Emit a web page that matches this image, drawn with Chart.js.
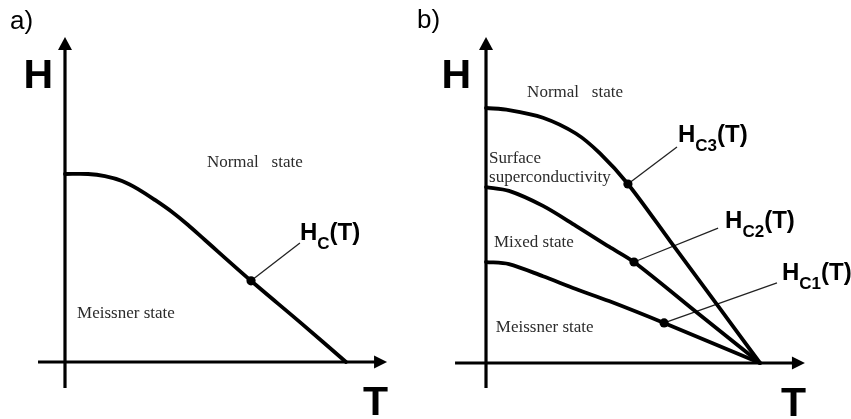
<!DOCTYPE html>
<html>
<head>
<meta charset="utf-8">
<title>Critical field phase diagrams</title>
<script src="https://cdn.jsdelivr.net/npm/chart.js@4/dist/chart.umd.min.js"></script>
<style>
  html, body { margin: 0; padding: 0; background: #ffffff; }
  #wrap { position: relative; width: 851px; height: 419px; overflow: hidden; }
  #panelA { position: absolute; left: 0; top: 0; }
  #panelB { position: absolute; left: 400px; top: 0; }
</style>
</head>
<body>
<div id="wrap">
  <canvas id="panelA" width="425" height="419"></canvas>
  <canvas id="panelB" width="451" height="419"></canvas>
</div>
<script>
// Reduced temperature T/Tc shared by the curves, and reduced field H.
// Panel a) type-I superconductor: a single critical field curve Hc(T).
const tA  = [0, 0.082, 0.142, 0.203, 0.260, 0.320, 0.381, 0.438, 0.498, 0.662, 0.836, 1];
const hcA = [1.0, 1.0, 0.989, 0.963, 0.920, 0.862, 0.798, 0.729, 0.649, 0.432, 0.212, 0];

// Panel b) type-II superconductor: Hc3, Hc2 and Hc1 (field in units of Hc3(0)).
const tC3 = [0, 0.084, 0.208, 0.328, 0.416, 0.518, 0.672, 0.854, 1];
const hC3 = [1.0, 0.992, 0.962, 0.900, 0.822, 0.702, 0.478, 0.213, 0];
const tC2 = [0, 0.084, 0.208, 0.328, 0.449, 0.540, 0.781, 1];
const hC2 = [0.690, 0.675, 0.616, 0.538, 0.456, 0.396, 0.188, 0];
const tC1 = [0, 0.084, 0.208, 0.328, 0.449, 0.650, 1];
const hC1 = [0.396, 0.388, 0.340, 0.290, 0.243, 0.157, 0];

// Index of the marked point on each curve (where the label's leader line starts)
const markA = 9, markC3 = 5, markC2 = 5, markC1 = 5;

// Where each leader line ends (T, H), next to its curve label
const leaderEndA  = [0.836, 0.633];
const leaderEndC3 = [0.697, 0.847];
const leaderEndC2 = [0.847, 0.529];
const leaderEndC1 = [1.062, 0.314];

// Region names written inside each diagram
const regionTextA = ['Normal   state', 'Meissner state'];
const regionTextB = ['Normal   state', 'Surface', 'superconductivity', 'Mixed state', 'Meissner state'];

const pts = (xs, ys) => xs.map((x, i) => ({ x: x, y: ys[i] }));

function curve(xs, ys, mark) {
  return {
    type: 'line',
    data: pts(xs, ys),
    borderColor: '#000',
    backgroundColor: '#000',
    borderWidth: 3.8,
    tension: 0.3,
    borderCapStyle: 'round',
    borderJoinStyle: 'round',
    pointRadius: ctx => ctx.dataIndex === mark ? 4.6 : 0,
    pointBorderWidth: 0,
    pointHoverRadius: 0,
    fill: false
  };
}

function leader(xs, ys, mark, end) {
  return {
    type: 'line',
    data: [{ x: xs[mark], y: ys[mark] }, { x: end[0], y: end[1] }],
    borderColor: '#222',
    borderWidth: 1.3,
    pointRadius: 0,
    fill: false
  };
}

// Draws the H and T axes with arrow heads, the axis letters, the panel tag,
// the region names and the curve labels.
const diagramDecor = {
  id: 'diagramDecor',
  afterDatasetsDraw(chart, args, opts) {
    const ctx = chart.ctx;
    const xs = chart.scales.x, ys = chart.scales.y;
    const px = v => xs.getPixelForValue(v);
    const py = v => ys.getPixelForValue(v);
    ctx.save();

    // axes
    const x0 = px(0), y0 = py(0);
    ctx.strokeStyle = '#000';
    ctx.fillStyle = '#000';
    ctx.lineWidth = 3.2;
    ctx.beginPath();
    ctx.moveTo(x0, py(opts.hAxis[0]));
    ctx.lineTo(x0, py(opts.hAxis[1]) + 10);
    ctx.stroke();
    ctx.lineWidth = 2.8;
    ctx.beginPath();
    ctx.moveTo(px(opts.tAxis[0]), y0);
    ctx.lineTo(px(opts.tAxis[1]) - 10, y0);
    ctx.stroke();
    // arrow heads
    const yt = py(opts.hAxis[1]);
    ctx.beginPath();
    ctx.moveTo(x0, yt);
    ctx.lineTo(x0 - 7, yt + 13);
    ctx.lineTo(x0 + 7, yt + 13);
    ctx.closePath();
    ctx.fill();
    const xt = px(opts.tAxis[1]);
    ctx.beginPath();
    ctx.moveTo(xt, y0);
    ctx.lineTo(xt - 13, y0 - 6.5);
    ctx.lineTo(xt - 13, y0 + 6.5);
    ctx.closePath();
    ctx.fill();

    // axis letters
    ctx.font = 'bold 41px "Liberation Sans", Arial, sans-serif';
    ctx.textBaseline = 'alphabetic';
    ctx.textAlign = 'right';
    ctx.fillText('H', x0 - opts.hLetterGap, 88);
    ctx.fillText('T', xt + 1, y0 + 53);

    // panel tag
    ctx.textAlign = 'left';
    ctx.font = '26px "Liberation Sans", Arial, sans-serif';
    ctx.fillText(opts.tag, opts.tagX, opts.tagY);

    // region names
    ctx.fillStyle = '#2b2b2b';
    ctx.font = '17px "Liberation Serif", "Times New Roman", serif';
    opts.regions.forEach(r => ctx.fillText(r.text, px(r.at[0]), py(r.at[1])));

    // curve labels: H, subscript, (T)
    ctx.fillStyle = '#000';
    opts.curveLabels.forEach(l => {
      let x = px(l.at[0]) + l.dx;
      const y = py(l.at[1]) + l.dy;
      ctx.font = 'bold 24px "Liberation Sans", Arial, sans-serif';
      ctx.fillText('H', x, y);
      x += ctx.measureText('H').width;
      ctx.font = 'bold 17px "Liberation Sans", Arial, sans-serif';
      ctx.fillText(l.sub, x, y + 9);
      x += ctx.measureText(l.sub).width;
      ctx.font = 'bold 24px "Liberation Sans", Arial, sans-serif';
      ctx.fillText('(T)', x, y);
    });
    ctx.restore();
  }
};

function baseOptions(xmin, xmax, ymin, ymax, decor) {
  return {
    responsive: false,
    animation: false,
    events: [],
    layout: { padding: 0 },
    scales: {
      x: { type: 'linear', min: xmin, max: xmax, display: false },
      y: { type: 'linear', min: ymin, max: ymax, display: false }
    },
    plugins: {
      legend: { display: false },
      tooltip: { enabled: false },
      diagramDecor: decor
    }
  };
}

new Chart(document.getElementById('panelA'), {
  type: 'line',
  data: {
    datasets: [
      curve(tA, hcA, markA),
      leader(tA, hcA, markA, leaderEndA)
    ]
  },
  options: baseOptions(-0.2313, 1.2811, -0.3032, 1.9255, {
    tAxis: [-0.096, 1.146],
    hAxis: [-0.138, 1.729],
    hLetterGap: 12,
    tag: 'a)', tagX: 10, tagY: 29,
    regions: [
      { text: regionTextA[0], at: [0.505, 1.037] },
      { text: regionTextA[1], at: [0.043, 0.234] }
    ],
    curveLabels: [
      { sub: 'C', at: leaderEndA, dx: 0, dy: -3 }
    ]
  }),
  plugins: [diagramDecor]
});

new Chart(document.getElementById('panelB'), {
  type: 'line',
  data: {
    datasets: [
      curve(tC3, hC3, markC3),
      curve(tC2, hC2, markC2),
      curve(tC1, hC1, markC1),
      leader(tC3, hC3, markC3, leaderEndC3),
      leader(tC2, hC2, markC2, leaderEndC2),
      leader(tC1, hC1, markC1, leaderEndC1)
    ]
  },
  options: baseOptions(-0.3139, 1.3321, -0.2196, 1.4235, {
    tAxis: [-0.113, 1.164],
    hAxis: [-0.098, 1.278],
    hLetterGap: 15,
    tag: 'b)', tagX: 17, tagY: 28,
    regions: [
      { text: regionTextB[0], at: [0.150, 1.043] },
      { text: regionTextB[1], at: [0.011, 0.784] },
      { text: regionTextB[2], at: [0.011, 0.710] },
      { text: regionTextB[3], at: [0.029, 0.455] },
      { text: regionTextB[4], at: [0.036, 0.122] }
    ],
    curveLabels: [
      { sub: 'C3', at: leaderEndC3, dx: 1, dy: -5 },
      { sub: 'C2', at: leaderEndC2, dx: 7, dy: 0 },
      { sub: 'C1', at: leaderEndC1, dx: 5, dy: -3 }
    ]
  }),
  plugins: [diagramDecor]
});
</script>
</body>
</html>
